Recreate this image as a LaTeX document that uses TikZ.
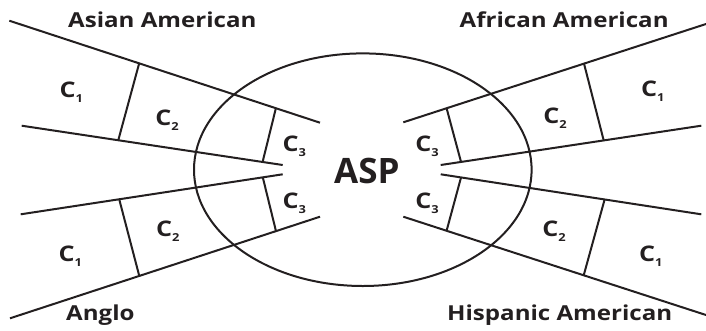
\documentclass[tikz,border=0pt]{standalone}
\usepackage{fontspec}
\setmainfont{Open Sans}
\newfontfamily\widefont[FakeStretch=1.17]{Open Sans}
\usetikzlibrary{calc,shapes.geometric}
\definecolor{ink}{HTML}{231F20}
\newcommand{\Csub}[1]{C\raisebox{-5pt}{\fontsize{11}{11}\selectfont #1}}
\begin{document}
\begin{tikzpicture}[x=1pt,y=-1pt,
  line/.style={draw=ink,line width=2pt},
  biglabel/.style={anchor=base west,inner sep=0pt,text=ink,font=\widefont\fontsize{20.6}{22}\selectfont\bfseries},
  clabel/.style={anchor=base west,inner sep=0pt,text=ink,font=\widefont\fontsize{21.5}{24}\selectfont\bfseries},
  asp/.style={anchor=base west,inner sep=0pt,text=ink,font=\fontsize{35}{36}\selectfont\bfseries}]
\useasboundingbox (0,0) rectangle (706,330);
% Asian American wedge
\coordinate (aUO) at (9.3,20.7);   \coordinate (aUI) at (320,122.7);
\coordinate (aLO) at (21.7,125.7); \coordinate (aLI) at (282.7,165);
% African American wedge
\coordinate (fUO) at (706,24);     \coordinate (fUI) at (403.3,122.3);
\coordinate (fLO) at (701.3,125.7);\coordinate (fLI) at (440.7,165);
% Anglo wedge
\coordinate (gUO) at (20.7,214.3); \coordinate (gUI) at (282.7,174.3);
\coordinate (gLO) at (10,318.3);   \coordinate (gLI) at (320,216.7);
% Hispanic American wedge
\coordinate (hUO) at (701.3,214.3);\coordinate (hUI) at (440.7,174.3);
\coordinate (hLO) at (706,315);    \coordinate (hLI) at (403.3,216.7);
% ellipse
\node[draw=ink,line width=2pt,ellipse,minimum width=337.6pt,minimum height=232.6pt,inner sep=0pt] (ell) at (362.8,169.7) {};
% wedge lines
\draw[line] (aUO) -- (aUI);
\draw[line] (aLO) -- (aLI);
\draw[line] ($(aUO)!0.418!(aUI)$) -- ($(aLO)!0.370!(aLI)$);
\draw[line] ($(aUO)!0.858!(aUI)$) -- ($(aLO)!0.923!(aLI)$);
\draw[line] (fUO) -- (fUI);
\draw[line] (fLO) -- (fLI);
\draw[line] ($(fUO)!0.403!(fUI)$) -- ($(fLO)!0.3745!(fLI)$);
\draw[line] ($(fUO)!0.857!(fUI)$) -- ($(fLO)!0.922!(fLI)$);
\draw[line] (gUO) -- (gUI);
\draw[line] (gLO) -- (gLI);
\draw[line] ($(gUO)!0.376!(gUI)$) -- ($(gLO)!0.417!(gLI)$);
\draw[line] ($(gUO)!0.924!(gUI)$) -- ($(gLO)!0.858!(gLI)$);
\draw[line] (hUO) -- (hUI);
\draw[line] (hLO) -- (hLI);
\draw[line] ($(hUO)!0.371!(hUI)$) -- ($(hLO)!0.404!(hLI)$);
\draw[line] ($(hUO)!0.922!(hUI)$) -- ($(hLO)!0.857!(hLI)$);
% labels
\node[biglabel] (asian) at (68,27.3) {Asian American};
\node[biglabel] (african) at (459.5,27.3) {African American};
\node[biglabel] (anglo) at (66,320) {Anglo};
\node[biglabel] (hisp) at (447,320) {Hispanic American};
\node[asp] (aspl) at (334,183.3) {ASP};
% C labels
\node[clabel] (a1) at (59.5,97) {\Csub{1}};
\node[clabel] (a2) at (155.2,125) {\Csub{2}};
\node[clabel] (a3) at (282.5,151.7) {\Csub{3}};
\node[clabel] (f1) at (640.8,96.7) {\Csub{1}};
\node[clabel] (f2) at (543.2,123.3) {\Csub{2}};
\node[clabel] (f3) at (415.2,151.7) {\Csub{3}};
\node[clabel] (g1) at (58.5,261.7) {\Csub{1}};
\node[clabel] (g2) at (155.8,236.7) {\Csub{2}};
\node[clabel] (g3) at (282.5,208.3) {\Csub{3}};
\node[clabel] (h1) at (638.8,261.7) {\Csub{1}};
\node[clabel] (h2) at (542.2,236.7) {\Csub{2}};
\node[clabel] (h3) at (415.2,208) {\Csub{3}};
\end{tikzpicture}
\end{document}
